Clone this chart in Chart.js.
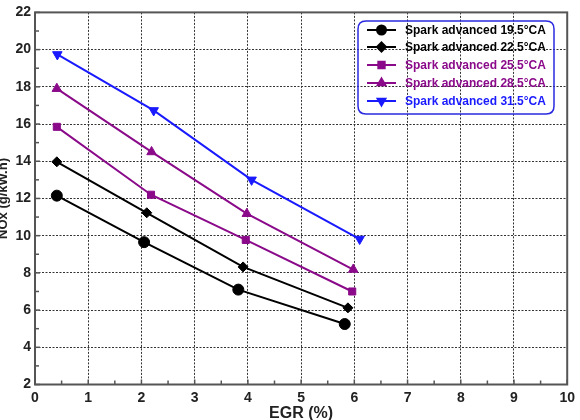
<!DOCTYPE html>
<html><head><meta charset="utf-8">
<script src="https://cdn.jsdelivr.net/npm/chart.js@4"></script>
<style>html,body{margin:0;padding:0;background:#fff}#wrap{width:580px;height:420px;position:relative}</style>
</head><body><div id="wrap"><canvas id="c" width="580" height="420"></canvas></div>
<script>
const seriesLabels = ["Spark advanced 19.5°CA","Spark advanced 22.5°CA","Spark advanced 25.5°CA","Spark advanced 28.5°CA","Spark advanced 31.5°CA"];
const egr195 = [0.41, 2.05, 3.82, 5.82];
const nox195 = [12.15, 9.65, 7.1, 5.25];
const egr225 = [0.41, 2.10, 3.91, 5.88];
const nox225 = [13.97, 11.23, 8.32, 6.12];
const egr255 = [0.41, 2.18, 3.96, 5.96];
const nox255 = [15.85, 12.2, 9.77, 7.0];
const egr285 = [0.41, 2.19, 3.98, 5.98];
const nox285 = [17.9, 14.5, 11.18, 8.18];
const egr315 = [0.42, 2.23, 4.07, 6.10];
const nox315 = [19.74, 16.73, 13.0, 9.82];
const xTicks = [0,1,2,3,4,5,6,7,8,9,10];
const yTicks = [2,4,6,8,10,12,14,16,18,20,22];

const colors = ['#000000','#000000','#8a0a8a','#8a0a8a','#1a1aff'];
const styles = ['circle','rectRot','rect','triangle','triangle'];
const rots = [0,0,0,0,180];
const radii = [5.5,5,5,5.5,5.5];
const xs = [egr195,egr225,egr255,egr285,egr315];
const ys = [nox195,nox225,nox255,nox285,nox315];

const datasets = seriesLabels.map((lab,i)=>({
  label: lab,
  data: xs[i].map((x,j)=>({x:x,y:ys[i][j]})),
  borderColor: colors[i], backgroundColor: colors[i],
  pointStyle: styles[i], pointRotation: rots[i], pointRadius: radii[i],
  pointBorderWidth: 1, borderWidth: 2, tension: 0, showLine: true
}));

const FONT = "'Liberation Sans', Arial, sans-serif";

const framePlugin = {
  id: 'frame',
  afterDraw(chart){
    const ctx = chart.ctx, a = chart.chartArea;
    const xs_ = chart.scales.x, ys_ = chart.scales.y;
    ctx.save();
    ctx.strokeStyle = '#555'; ctx.lineWidth = 2; ctx.setLineDash([]);
    ctx.strokeRect(a.left, a.top, a.right-a.left, a.bottom-a.top);
    ctx.lineWidth = 1.5;
    for (let v=0; v<=10.001; v+=0.5){
      const px = xs_.getPixelForValue(v);
      const len = (Math.abs(v-Math.round(v))<1e-6)?5:4;
      ctx.beginPath(); ctx.moveTo(px, a.bottom); ctx.lineTo(px, a.bottom-len); ctx.stroke();
    }
    for (let v=2; v<=22.001; v+=1){
      const py = ys_.getPixelForValue(v);
      const len = (v%2===0)?5:4;
      ctx.beginPath(); ctx.moveTo(a.left, py); ctx.lineTo(a.left+len, py); ctx.stroke();
    }
    // legend (transparent box)
    const bx=358, by=21, bw=196, bh=93, r=8;
    ctx.strokeStyle='#2a2ae0'; ctx.lineWidth=1.5;
    ctx.beginPath();
    ctx.moveTo(bx+r,by); ctx.lineTo(bx+bw-r,by); ctx.quadraticCurveTo(bx+bw,by,bx+bw,by+r);
    ctx.lineTo(bx+bw,by+bh-r); ctx.quadraticCurveTo(bx+bw,by+bh,bx+bw-r,by+bh);
    ctx.lineTo(bx+r,by+bh); ctx.quadraticCurveTo(bx,by+bh,bx,by+bh-r);
    ctx.lineTo(bx,by+r); ctx.quadraticCurveTo(bx,by,bx+r,by); ctx.closePath();
    ctx.stroke();
    const rowY = [30, 47, 65, 83, 101];
    chart.data.datasets.forEach((ds,i)=>{
      const y = rowY[i];
      ctx.strokeStyle = ds.borderColor; ctx.fillStyle = ds.borderColor; ctx.lineWidth=2;
      ctx.beginPath(); ctx.moveTo(367,y); ctx.lineTo(396,y); ctx.stroke();
      Chart.helpers.drawPoint(ctx, {pointStyle: ds.pointStyle, rotation: ds.pointRotation, radius: 4.5, borderWidth:1}, 381.5, y);
      ctx.font = "bold 12px " + FONT;
      ctx.textBaseline='middle'; ctx.textAlign='left';
      ctx.fillText(ds.label, 405, y+0.5, 146);
    });
    ctx.restore();
  }
};

new Chart(document.getElementById('c'), {
  type: 'scatter',
  data: { datasets },
  options: {
    responsive: false, animation: false,
    layout: { padding: { top: 6, right: 12, left: 0, bottom: 0 } },
    plugins: { legend: { display: false }, tooltip: { enabled: false } },
    scales: {
      x: {
        type: 'linear', min: 0, max: 10,
        afterBuildTicks: s => { s.ticks = xTicks.map(v=>({value:v})); },
        afterFit: s => { s.height = 35.5; },
        grid: { color: '#333', lineWidth: 1, drawTicks: false },
        border: { display: false, dash: [2,1.5] },
        ticks: { color: '#222', padding: 5, font: { family: FONT, size: 14, weight: 'bold' }, maxRotation: 0, autoSkip: false },
        title: { display: true, text: 'EGR (%)', color: '#222', padding: { top: 0, bottom: -3 }, font: { family: FONT, size: 16, weight: 'bold' } }
      },
      y: {
        type: 'linear', min: 2, max: 22,
        afterBuildTicks: s => { s.ticks = yTicks.map(v=>({value:v})); },
        afterFit: s => { s.width = 35; },
        grid: { color: '#333', lineWidth: 1, drawTicks: false },
        border: { display: false, dash: [2,1.5] },
        ticks: { color: '#222', padding: 4, font: { family: FONT, size: 14, weight: 'bold' }, autoSkip: false },
        title: { display: true, text: 'NOx (g/kW.h)', color: '#222', padding: { top: -4, bottom: 0 }, font: { family: FONT, size: 13, weight: 'bold' } }
      }
    }
  },
  plugins: [framePlugin]
});
</script></body></html>
